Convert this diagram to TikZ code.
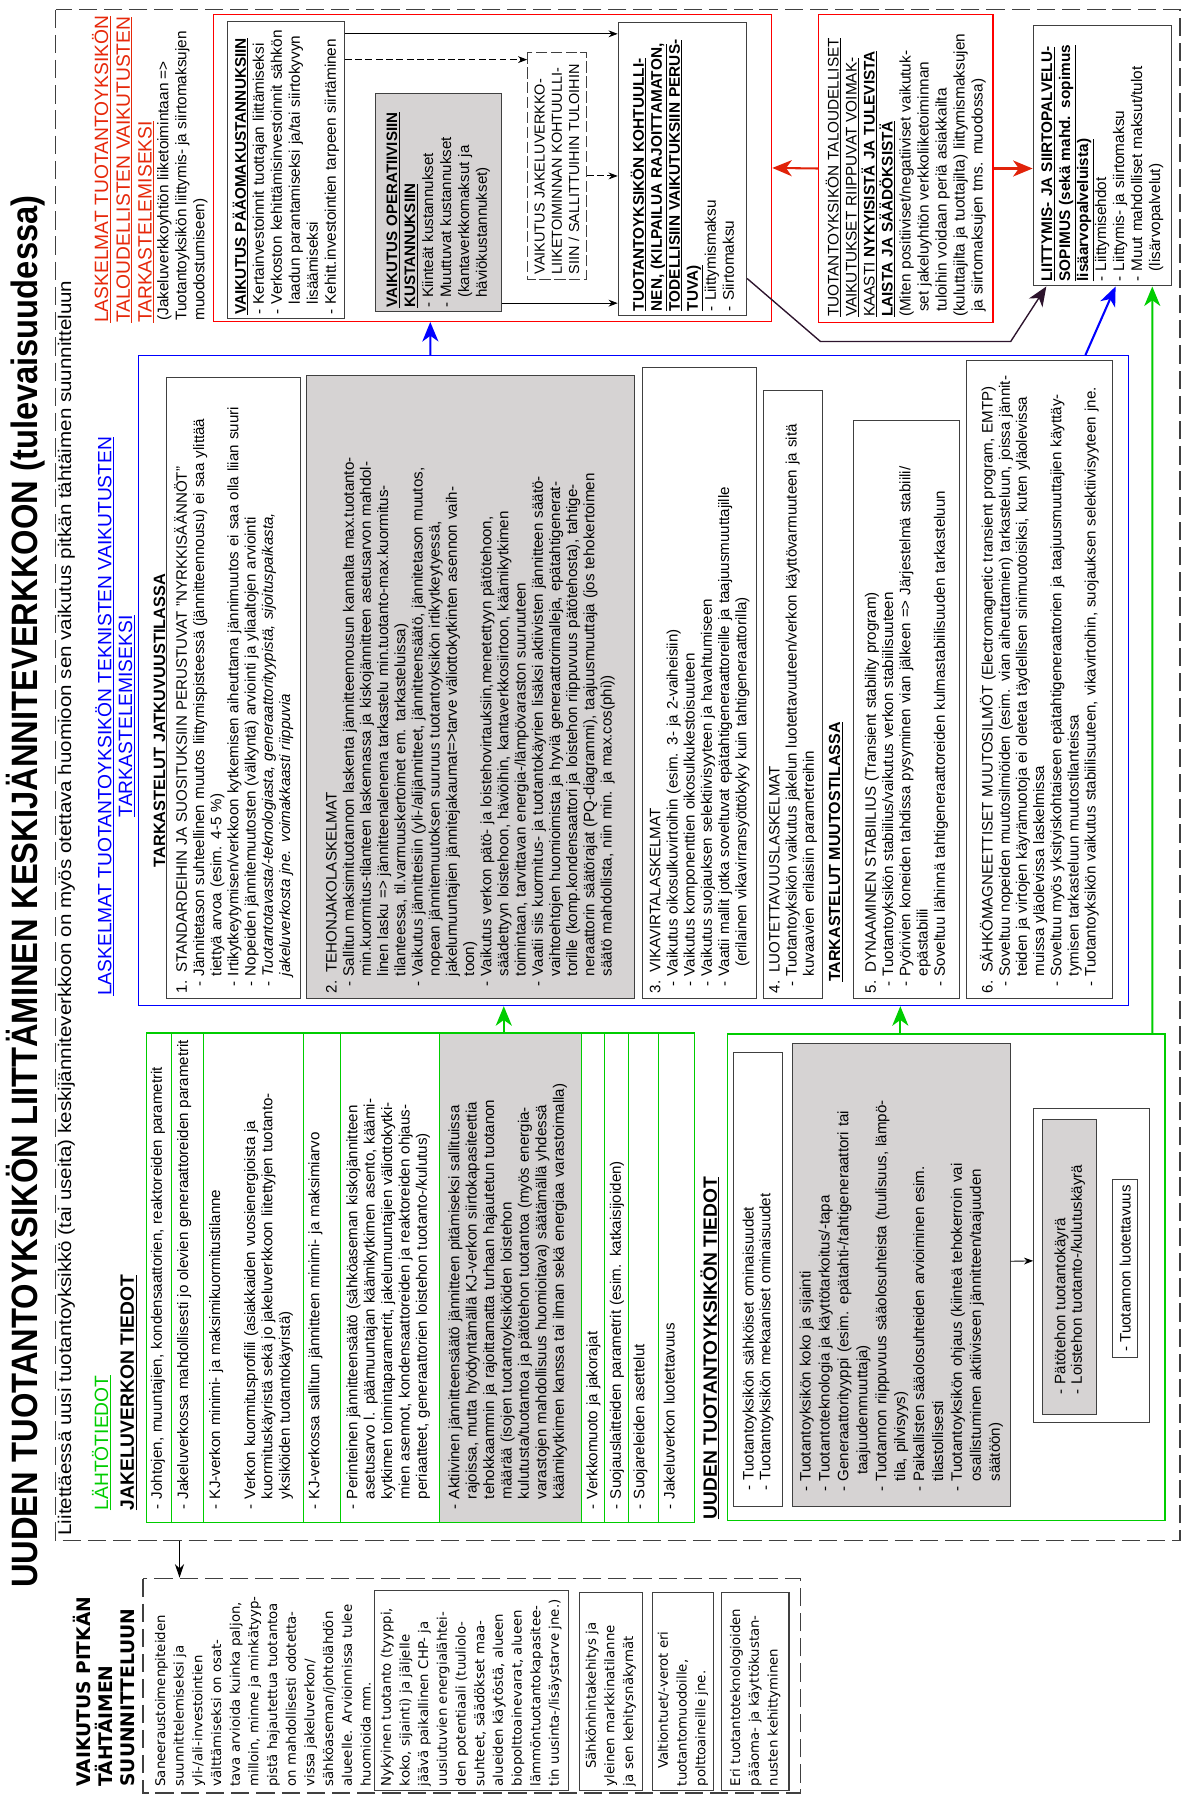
\documentclass[tikz,border=0pt]{standalone}
\usepackage{xcolor}
\usepackage{graphicx}
\usepackage{fontspec}
\setmainfont{Liberation Sans}
\newfontfamily\verafont{DejaVu Sans}
\usepackage{tikz}
\usetikzlibrary{arrows.meta,calc}
\definecolor{headred}{RGB}{230,40,10}
\definecolor{arrred}{RGB}{225,35,10}
\definecolor{darkplum}{RGB}{45,20,45}
\definecolor{boxgrey}{RGB}{214,211,211}
\definecolor{linegreen}{RGB}{0,205,0}
\newcommand{\gcont}{\hphantom{- }}
\newcommand{\bdash}{\hspace*{6pt}- }
\newcommand{\bcont}{\hspace*{6pt}\gcont}

\begin{document}
\begin{tikzpicture}[x=1pt,y=1pt,rotate=90,transform shape,
  font=\fontsize{13.2}{15}\selectfont,
  every node/.style={inner sep=0pt},
  txt/.style={anchor=north west,align=left},
  box/.style={draw=black!75,line width=0.9pt,fill=white,anchor=north west,align=left,inner xsep=5pt},
  greybox/.style={box,fill=boxgrey},
  dashframe/.style={anchor=north west,draw=black!75,line width=1.3pt,dash pattern=on 16pt off 6pt},
  redfont/.style={font=\fontsize{13.4}{15.7}\selectfont},
  rowfont/.style={font=\fontsize{13.2}{15.2}\selectfont},
  verafont/.style={font=\verafont\fontsize{11.6}{16.3}\selectfont},
  bigarrow/.style={line width=1.8pt,-{Stealth[length=17pt,width=14pt,inset=5pt]}},
  smallarrow/.style={line width=0.8pt,-{Stealth[length=8pt,width=6pt]}}]

\useasboundingbox (0,0) rectangle (1568,1039);

\node[anchor=base] (title) at (790,1006) {\resizebox{1215pt}{\height}{\fontsize{32}{36}\selectfont\bfseries UUDEN TUOTANTOYKSIKÖN LIITTÄMINEN KESKIJÄNNITEVERKKOON (tulevaisuudessa)}};
\node[anchor=base west] (subtitle) at (228,977) {\resizebox{1095pt}{\height}{\fontsize{16}{19}\selectfont Liitettäessä uusi tuotantoyksikkö (tai useita) keskijänniteverkkoon on myös otettava huomioon sen vaikutus pitkän tähtäimen suunnitteluun}};
\node[dashframe,minimum width=1336pt,minimum height=981pt] (outer) at (223,991) {};

\node[txt,text=headred,font=\fontsize{16.8}{19}\selectfont] (redhead) at (1286,959) {\underline{LASKELMAT TUOTANTOYKSIKÖN}\\\underline{TALOUDELLISTEN VAIKUTUSTEN}\\\underline{TARKASTELEMISEKSI}};
\node[txt,redfont] (redsub) at (1288,902) {(Jakeluverkkoyhtiön liiketoimintaan =>\\Tuotantoyksikön liittymis- ja siirtomaksujen\\muodostumiseen)};
\node[anchor=north west,draw=red,line width=0.9pt,minimum width=268pt,minimum height=487pt] (rb1) at (1287,853) {};
\node[box,redfont,minimum width=259pt,minimum height=102pt,text width=253pt,inner xsep=3pt] (pa) at (1290,841)
  {\underline{\textbf{VAIKUTUS PÄÄOMAKUSTANNUKSIIN}}\\- Kertainvestoinnit tuottajan liittämiseksi\\- Verkoston kehittämisinvestoinnit sähkön\\\gcont laadun parantamiseksi ja/tai siirtokyvyn\\\gcont lisäämiseksi\\- Kehitt.investointien tarpeen siirtäminen};
\node[greybox,font=\fontsize{13.2}{15.7}\selectfont,minimum width=190pt,minimum height=110pt,text width=184pt,inner xsep=3pt] (op) at (1296,712)
  {\underline{\textbf{VAIKUTUS OPERATIIVISIIN}}\\\underline{\textbf{KUSTANNUKSIIN}}\\- Kiinteät kustannukset\\- Muuttuvat kustannukset\\\gcont(kantaverkkomaksut ja\\\gcont häviökustannukset)};
\node[box,dash pattern=on 10pt off 3pt,font=\fontsize{12.6}{15}\selectfont,minimum width=198pt,minimum height=51pt,text width=190pt,inner xsep=4pt] (dbox) at (1324,579)
  {VAIKUTUS JAKELUVERKKO-\\LIIKETOIMINNAN KOHTUULLI-\\SIIN / SALLITTUIHIN TULOIHIN};
\node[box,redfont,minimum width=256pt,minimum height=112pt,text width=248pt,inner xsep=4pt] (kohtu) at (1292,500)
  {\underline{\textbf{TUOTANTOYKSIKÖN KOHTUULLI-}}\\\underline{\textbf{NEN, (KILPAILUA RAJOITTAMATON,}}\\\underline{\textbf{TODELLISIIN VAIKUTUKSIIN PERUS-}}\\\underline{\textbf{TUVA)}}\\- Liittymismaksu\\- Siirtomaksu};
\draw[smallarrow] ($(pa.south)+(118.5,0)$) -- ($(kohtu.north)+(118,0)$);
\draw[smallarrow,dash pattern=on 6pt off 3pt] ($(pa.south)+(96,0)$) -- ($(dbox.north)+(92.5,0)$);
\draw[smallarrow,dash pattern=on 6pt off 3pt] ($(dbox.south)+(-9,0)$) -- ($(kohtu.north)+(-6,0)$);
\draw[smallarrow] ($(op.south)+(-88,0)$) -- ($(kohtu.north)+(-117,0)$);

\node[anchor=north west,draw=red,line width=0.9pt,fill=white,align=left,inner xsep=5pt,redfont,minimum width=269pt,minimum height=152pt,text width=259pt] (rb2) at (1286,325)
  {\underline{TUOTANTOYKSIKÖN TALOUDELLISET}\\\underline{VAIKUTUKSET RIIPPUVAT VOIMAK-}\\\underline{KAASTI \textbf{NYKYISISTÄ JA TULEVISTA}}\\\underline{\textbf{LAISTA JA SÄÄDÖKSISTÄ}}\\(Miten positiiviset/negatiiviset vaikutuk-\\\hphantom{(}set jakeluyhtiön verkkoliiketoiminnan\\\hphantom{(}tuloihin voidaan periä asiakkailta\\(kuluttajilta ja tuottajilta) liittymismaksujen\\\hphantom{(}ja siirtomaksujen tms. muodossa)};
\node[box,redfont,minimum width=227pt,minimum height=121pt,text width=219pt,inner xsep=4pt] (liit) at (1318,138)
  {\underline{\textbf{LIITTYMIS- JA SIIRTOPALVELU-}}\\\underline{\textbf{SOPIMUS (sekä mahd. sopimus}}\\\underline{\textbf{lisäarvopalveluista)}}\\- Liittymisehdot\\- Liittymis- ja siirtomaksu\\- Muut mahdolliset maksut/tulot\\\gcont(lisärvopalvelut)};
\draw[bigarrow,arrred] (rb2.north) -- (rb1.south);
\draw[bigarrow,arrred] (rb2.south) -- ($(liit.north)+(-11,0)$);
\draw[bigarrow,darkplum,line width=1.2pt] ($(kohtu.south west)+(33,0)$) -- ++(-55,-64) -- ++(0,-166) -- ($(liit.north west)+(0,-12)$);

\node[anchor=north west,draw=blue,line width=1.2pt,minimum width=567pt,minimum height=863.5pt] (blue) at (690,918.5) {};
\node[anchor=north,align=center,text=blue,font=\fontsize{16.8}{18}\selectfont] (bluehead) at (943,956) {\underline{LASKELMAT TUOTANTOYKSIKÖN TEKNISTEN VAIKUTUSTEN}\\\underline{TARKASTELEMISEKSI}};
\node[txt,font=\fontsize{14.3}{16}\selectfont\bfseries] (tjat) at (811,905) {\underline{TARKASTELUT JATKUVUUSTILASSA}};
\node[box,minimum width=542pt,minimum height=117pt,text width=532pt] (b1) at (696,894)
  {1. STANDARDEIHIN JA SUOSITUKSIIN PERUSTUVAT "NYRKKISÄÄNNÖT"\\\bdash Jännitetason suhteellinen muutos liittymispisteessä (jännitteennousu) ei saa ylittää\\\bcont tiettyä arvoa (esim. 4-5 \%)\\\bdash Irtikytkeytymisen/verkkoon kytkemisen aiheuttama jännimuutos ei saa olla liian suuri\\\bdash Nopeiden jännitemuutosten (välkyntä) arviointi ja yliaaltojen arviointi\\\bdash \textit{Tuotantotavasta/-teknologiasta, generaattorityypistä, sijoituspaikasta,}\\\bcont \textit{jakeluverkosta jne. voimakkaasti riippuvia}};
\node[greybox,minimum width=544pt,minimum height=286pt,text width=534pt] (b2) at (696,772)
  {2. TEHONJAKOLASKELMAT\\\bdash Sallitun maksimituotannon laskenta jännitteennousun kannalta max.tuotanto-\\\bcont min.kuormitus-tilanteen laskennassa ja kiskojännitteen asetusarvon mahdol-\\\bcont linen lasku => jännitteenalenema tarkastelu min.tuotanto-max.kuormitus-\\\bcont tilanteessa, til.varmuuskertoimet em. tarkasteluissa)\\\bdash Vaikutus jännitteisiin (yli-/alijännitteet, jännitteensäätö, jännitetason muutos,\\\bcont nopean jännitemuutoksen suuruus tuotantoyksikön irtikytkeytyessä,\\\bcont jakelumuuntajien jännitejakaumat=>tarve väliottokytkinten asennon vaih-\\\bcont toon)\\\bdash Vaikutus verkon pätö- ja loistehovirtauksiin,menetettyyn pätötehoon,\\\bcont säädettyyn loistehoon, häviöihin, kantaverkkosiirtoon, käämikytkimen\\\bcont toimintaan, tarvittavan energia-/lämpövaraston suuruuteen\\\bdash Vaatii siis kuormitus- ja tuotantokäyrien lisäksi aktiivisten jännitteen säätö-\\\bcont vaihtoehtojen huomioimista ja hyviä generaattorimalleja, epätahtigenerat-\\\bcont torille (komp.kondensaattori ja loistehon riippuvuus pätötehosta), tahtige-\\\bcont neraattorin säätörajat (PQ-diagrammi), taajuusmuuttaja (jos tehokertoimen\\\bcont säätö mahdollista, niin min. ja max.cos(phi))};
\node[box,minimum width=551pt,minimum height=100pt,text width=541pt] (b3) at (696,479)
  {3. VIKAVIRTALASKELMAT\\\bdash Vaikutus oikosulkuvirtoihin (esim. 3- ja 2-vaiheisiin)\\\bdash Vaikutus komponenttien oikosulkukestoisuuteen\\\bdash Vaikutus suojauksen selektiivisyyteen ja havahtumiseen\\\bdash Vaatii mallit jotka soveltuvat epätahtigeneraattoreille ja taajuusmuuttajille\\\bcont\hspace*{8pt}(erilainen vikavirransyöttökyky kuin tahtigeneraattorilla)};
\node[box,minimum width=531pt,minimum height=51pt,text width=521pt] (b4) at (696,373)
  {4. LUOTETTAVUUSLASKELMAT\\\bdash Tuotantoyksikön vaikutus jakelun luotettavuuteen/verkon käyttövarmuuteen ja sitä\\\bcont kuvaavien erilaisiin parametreihin};
\node[txt,font=\fontsize{14}{16}\selectfont\bfseries] (tmuu) at (711,316) {\underline{TARKASTELUT MUUTOSTILASSA}};
\node[box,minimum width=505pt,minimum height=93pt,text width=495pt] (b5) at (696,295)
  {5. DYNAAMINEN STABIILIUS (Transient stability program)\\\bdash Tuotantoyksikön stabiilius/vaikutus verkon stabiilisuuteen\\\bdash Pyörivien koneiden tahdissa pysyminen vian jälkeen => Järjestelmä stabiili/\\\bcont epästabiili\\\bdash Soveltuu lähinnä tahtigeneraattoreiden kulmastabiilisuuden tarkasteluun};
\node[box,minimum width=557pt,minimum height=127pt,text width=547pt] (b6) at (696,196)
  {6. SÄHKÖMAGNEETTISET MUUTOSILMÖT (Electromagnetic transient program, EMTP)\\\bdash Soveltuu nopeiden muutosilmiöiden (esim. vian aiheuttamien) tarkasteluun, joissa jännit-\\\bcont teiden ja virtojen käyrämuotoja ei oleteta täydellisen sinimuotoisiksi, kuten yläolevissa\\\bcont muissa yläolevissa laskelmissa\\\bdash Soveltuu myös yksityiskohtaiseen epätahtigeneraattorien ja taajuusmuuttajien käyttäy-\\\bcont tymisen tarkasteluun muutostilanteissa\\\bdash Tuotantoyksikön vaikutus stabiilisuuteen, vikavirtoihin, suojauksen selektiivisyyteen jne.};
\draw[bigarrow,blue] ($(blue.east)+(0,177.25)$) -- ($(rb1.west)+(0,54.5)$);
\draw[bigarrow,blue] ($(blue.east)+(0,-394.25)$) -- ($(liit.west)+(0,-11.5)$);

\node[txt,text=linegreen,font=\fontsize{16.8}{19}\selectfont] (lahto) at (250,959) {\underline{LÄHTÖTIEDOT}};
\node[txt,font=\fontsize{16.8}{19}\selectfont\bfseries] (jakhead) at (250,934) {\underline{JAKELUVERKON TIEDOT}};
\fill[boxgrey] (239,531.6) rectangle (666,655.2);
\node[anchor=north west,draw=linegreen,line width=1.2pt,minimum width=427pt,minimum height=478pt] (green1) at (239,911.6) {};
\foreach \yy in {889.2,861.6,774.4,741.8,655.2,531.6,511.2,490.9,464.7}
  \draw[linegreen,line width=1pt] (239,\yy) -- (666,\yy);
\node[txt,rowfont,text width=412pt] (jv1) at (251,907.6) {- Johtojen, muuntajien, kondensaattorien, reaktoreiden parametrit};
\node[txt,rowfont,text width=412pt] (jv2) at (251,884.5) {- Jakeluverkossa mahdollisesti jo olevien generaattoreiden parametrit};
\node[txt,rowfont,text width=412pt] (jv3) at (251,856.6) {- KJ-verkon minimi- ja maksimikuormitustilanne\\[15.2pt]- Verkon kuormitusprofiili (asiakkaiden vuosienergioista ja\\\gcont kuormituskäyristä sekä jo jakeluverkkoon liitettyjen tuotanto-\\\gcont yksiköiden tuotantokäyristä)};
\node[txt,rowfont,text width=412pt] (jv4) at (251,770) {- KJ-verkossa sallitun jännitteen minimi- ja maksimiarvo};
\node[txt,rowfont,text width=412pt] (jv5) at (251,737) {- Perinteinen jännitteensäätö (sähköaseman kiskojännitteen\\\gcont asetusarvo l. päämuuntajan käämikytkimen asento, käämi-\\\gcont kytkimen toimintaparametrit, jakelumuuntajien väliottokytki-\\\gcont mien asennot, kondensaattoreiden ja reaktoreiden ohjaus-\\\gcont periaatteet, generaattorien loistehon tuotanto-/kulutus)};
\node[txt,rowfont,text width=412pt] (jv6) at (251,648) {- Aktiivinen jännitteensäätö jännitteen pitämiseksi sallituissa\\\gcont rajoissa, mutta hyödyntämällä KJ-verkon siirtokapasiteettia\\\gcont tehokkaammin ja rajoittamatta turhaan hajautetun tuotanon\\\gcont määrää (isojen tuotantoyksiköiden loistehon\\\gcont kulutusta/tuotantoa ja pätötehon tuotantoa (myös energia-\\\gcont varastojen mahdollisuus huomioitava) säätämällä yhdessä\\\gcont käämikytkimen kanssa tai ilman sekä energiaa varastoimalla)};
\node[txt,rowfont,text width=412pt] (jv7) at (251,527.5) {- Verkkomuoto ja jakorajat};
\node[txt,rowfont,text width=412pt] (jv8) at (251,507) {- Suojauslaitteiden parametrit (esim. katkaisijoiden)};
\node[txt,rowfont,text width=412pt] (jv9) at (251,486.5) {- Suojareleiden asettelut};
\node[txt,rowfont,text width=412pt] (jv10) at (251,460) {- Jakeluverkon luotettavuus};
\draw[bigarrow,linegreen] ($(green1.east)+(0,-72.6)$) -- ($(blue.west)+(0,113.25)$);

\node[txt,font=\fontsize{16.8}{19}\selectfont\bfseries] (uudhead) at (242,428) {\underline{UUDEN TUOTANTOYKSIKÖN TIEDOT}};
\node[anchor=north west,draw=linegreen,line width=1.2pt,minimum width=424.5pt,minimum height=382pt] (green2) at (240.5,405) {};
\node[box,font=\fontsize{13.2}{14.5}\selectfont,minimum width=396pt,minimum height=42pt,text width=368pt,inner xsep=14pt] (gA) at (253,399)
  {- Tuotantoyksikön sähköiset ominaisuudet\\- Tuotantoyksikön mekaaniset ominaisuudet};
\node[greybox,font=\fontsize{13.2}{16.5}\selectfont,minimum width=404pt,minimum height=190pt,text width=378pt,inner xsep=13pt] (gB) at (253,348)
  {- Tuotantoyksikön koko ja sijainti\\- Tuotantoteknologia ja käyttötarkoitus/-tapa\\- Generaattorityyppi (esim. epätahti-/tahtigeneraattori tai\\\gcont\hspace*{6pt}taajuudenmuuttaja)\\- Tuotannon riippuvuus sääolosuhteista (tuulisuus, lämpö-\\\gcont tila, pilvisyys)\\- Paikallisten sääolosuhteiden arvioiminen esim.\\\gcont tilastollisesti\\- Tuotantoyksikön ohjaus (kiinteä tehokerroin vai\\\gcont osallistuminen aktiiviseen jännitteen/taajuuden\\\gcont säätöön)};
\node[box,minimum width=274pt,minimum height=101pt] (gC) at (326,137.5) {};
\node[greybox,font=\fontsize{13.2}{14.5}\selectfont,minimum width=258pt,minimum height=47.4pt,text width=222pt,inner xsep=18pt] (gD) at (333,129.7)
  {- Pätötehon tuotantokäyrä\\- Loistehon tuotanto-/kulutuskäyrä};
\node[box,align=center,minimum width=154pt,minimum height=22pt] (gE) at (383,68.6) {- Tuotannon luotettavuus};
\draw[smallarrow] ($(gB.south)+(12,0)$) -- ($(gC.north)+(4.35,0)$);
\draw[bigarrow,linegreen] ($(green2.east)+(0,40)$) -- ($(blue.west)+(0,-232.75)$);
\draw[bigarrow,linegreen] ($(green2.east)+(0,-180)$) -- ($(liit.west)+(0,-43.5)$);

\node[dashframe,minimum width=187pt,minimum height=574pt] (longterm) at (3,915) {};
\draw[line width=1.2pt,-{Stealth[length=12pt,width=8pt]}] ($(outer.west)+(0,382.5)$) -- ($(longterm.east)+(0,255)$);
\node[txt,font=\verafont\bfseries\fontsize{16.3}{19}\selectfont] (lthead) at (9,975) {VAIKUTUS PITKÄN\\TÄHTÄIMEN\\SUUNNITTELUUN};
\node[txt,verafont,text width=180pt] (lttext) at (9,904)
  {Saneeraustoimenpiteiden\\suunnittelemiseksi ja\\yli-/ali-investointien\\välttämiseksi on osat-\\tava arvioida kuinka paljon,\\milloin, minne ja minkätyyp-\\pistä hajautettua tuotantoa\\on mahdollisesti odotetta-\\vissa jakeluverkon/\\sähköaseman/johtolähdön\\alueelle. Arvioinnissa tulee\\huomioida mm.};
\node[box,verafont,minimum width=175pt,minimum height=169.5pt,text width=167pt,inner xsep=4pt] (lt1) at (5,713)
  {Nykyinen tuotanto (tyyppi,\\koko, sijainti) ja jäljelle\\jäävä paikallinen CHP- ja\\uusiutuvien energialähtei-\\den potentiaali (tuuliolo-\\suhteet, säädökset maa-\\alueiden käytöstä, alueen\\biopolttoainevarat, alueen\\lämmöntuotantokapasitee-\\tin uusinta-/lisäystarve jne.)};
\node[box,verafont,minimum width=173pt,minimum height=55pt,text width=165pt,inner xsep=4pt] (lt2) at (5,534)
  {\hspace*{15pt}Sähkönhintakehitys ja\\yleinen markkinatilanne\\ja sen kehitysnäkymät};
\node[box,verafont,minimum width=173pt,minimum height=53pt,text width=165pt,inner xsep=4pt] (lt3) at (5,470)
  {\hspace*{15pt}Valtiontuet/-verot eri\\tuotantomuodoille,\\polttoaineille jne.};
\node[box,verafont,minimum width=173pt,minimum height=59pt,text width=165pt,inner xsep=4pt] (lt4) at (5,410)
  {Eri tuotantoteknologioiden\\pääoma- ja käyttökustan-\\nusten kehittyminen};
\end{tikzpicture}
\end{document}
